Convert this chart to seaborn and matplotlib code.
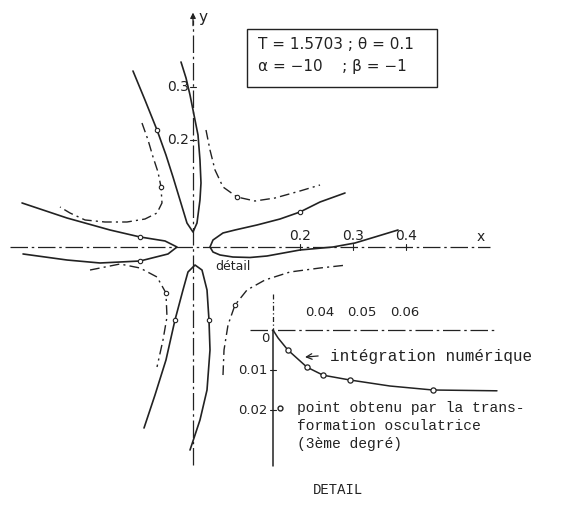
import matplotlib
matplotlib.use("Agg")
import matplotlib.pyplot as plt
from matplotlib.patches import Rectangle
import seaborn as sns

sns.set_style("white")
plt.rcParams['font.family'] = ['DejaVu Sans']

ink = '#222222'

# --- main phase plane: trajectories (x, y) ---
a_x = [-0.1126, -0.0901, -0.0675, -0.0507, -0.0375, -0.0244, -0.0113, 0.0, 0.0075, 0.0131,
       0.0150, 0.0131, 0.0094, 0.0019, -0.0056, -0.0131, -0.0225]
a_y = [0.3302, 0.2758, 0.2195, 0.1726, 0.1313, 0.0882, 0.0450, 0.0281, 0.0450, 0.0882,
       0.1201, 0.1632, 0.2101, 0.2477, 0.2852, 0.3171, 0.3471]

b_x = [-0.0957, -0.0844, -0.0750, -0.0657, -0.0600, -0.0582, -0.0675, -0.0901, -0.1238,
       -0.1651, -0.2026, -0.2308, -0.2495]
b_y = [0.2326, 0.2008, 0.1689, 0.1407, 0.1126, 0.0826, 0.0638, 0.0525, 0.0469,
       0.0469, 0.0507, 0.0638, 0.0750]

c_x = [0.0244, 0.0319, 0.0413, 0.0563, 0.0826, 0.1163, 0.1538, 0.2008, 0.2383]
c_y = [0.2195, 0.1820, 0.1445, 0.1126, 0.0938, 0.0863, 0.0919, 0.1051, 0.1163]

d_x = [0.2852, 0.2383, 0.2008, 0.1632, 0.1201, 0.0788, 0.0563, 0.0375, 0.0319, 0.0375,
       0.0507, 0.0750, 0.1069, 0.1388, 0.2008, 0.2627, 0.3039, 0.3415, 0.3846]
d_y = [0.1013, 0.0844, 0.0657, 0.0525, 0.0413, 0.0319, 0.0263, 0.0131, 0.0, -0.0094,
       -0.0150, -0.0188, -0.0197, -0.0169, -0.0056, 0.0, 0.0075, 0.0188, 0.0319]

e_x = [0.0563, 0.0582, 0.0657, 0.0788, 0.1013, 0.1351, 0.1820, 0.2383, 0.2889]
e_y = [-0.2402, -0.1932, -0.1463, -0.1088, -0.0807, -0.0619, -0.0469, -0.0394, -0.0338]

f_x = [-0.1932, -0.1370, -0.0994, -0.0675, -0.0507, -0.0488, -0.0563, -0.0675]
f_y = [-0.0432, -0.0319, -0.0394, -0.0563, -0.0863, -0.1313, -0.1745, -0.2251]

g_x = [-0.0919, -0.0713, -0.0507, -0.0338, -0.0188, -0.0094, 0.0038, 0.0169, 0.0263, 0.0300,
       0.0319, 0.0263, 0.0131, -0.0056]
g_y = [-0.3396, -0.2777, -0.2120, -0.1370, -0.0807, -0.0469, -0.0338, -0.0432, -0.0807, -0.1370,
       -0.1932, -0.2683, -0.3246, -0.3809]

h_x = [-0.3208, -0.2364, -0.1557, -0.0994, -0.0525, -0.0300, -0.0469, -0.0994, -0.1745,
       -0.2364, -0.3189]
h_y = [0.0826, 0.0544, 0.0319, 0.0188, 0.0113, 0.0, -0.0131, -0.0263, -0.0300,
       -0.0244, -0.0131]

main_xticks = [0.2, 0.3, 0.4]
main_yticks = [0.2, 0.3]

# --- detail: numerical integration near the origin ---
det_x = [0.0290, 0.0302, 0.0325, 0.0370, 0.0408, 0.0471, 0.0565, 0.0666, 0.0817]
det_y = [0.0, 0.0020, 0.0050, 0.0093, 0.0113, 0.0125, 0.0140, 0.0150, 0.0152]
det_marks = [2, 3, 4, 5, 7]   # points from the osculating transformation
det_xticks = [0.04, 0.05, 0.06]
det_yticks = [0.01, 0.02]

solid = '-'
dashed = (0, (7, 3, 1.5, 3))
axis_ls = (0, (14, 3, 2, 3))

traj = [
    (a_x, a_y, solid, [2]),
    (b_x, b_y, dashed, [4]),
    (c_x, c_y, dashed, [4]),
    (d_x, d_y, solid, [2]),
    (e_x, e_y, dashed, [3]),
    (f_x, f_y, dashed, [4]),
    (g_x, g_y, solid, [3, 9]),
    (h_x, h_y, solid, [3, 7]),
]

fig = plt.figure(figsize=(5.68, 5.28), dpi=100)
ax = fig.add_axes([0, 0, 1, 1])
ax.set_xlim(-0.3621, 0.7036)
ax.set_ylim(-0.5272, 0.4634)
ax.axis('off')

# axes of the phase plane
ax.plot([-0.343, 0.557], [0, 0], color=ink, lw=0.9, linestyle=axis_ls)
ax.plot([0, 0], [-0.409, 0.425], color=ink, lw=0.9, linestyle=axis_ls)
ax.annotate('', xy=(0, 0.445), xytext=(0, 0.41),
            arrowprops=dict(arrowstyle='-|>', color=ink, lw=0.9, mutation_scale=8))
ax.text(0.540, 0.019, 'x', fontsize=10, color=ink, ha='center', va='center')
ax.text(0.019, 0.430, 'y', fontsize=11, color=ink, ha='center', va='center')

for v in main_xticks:
    ax.plot([v, v], [-0.005, 0.005], color=ink, lw=0.8)
    ax.text(v, 0.007, f'{v:.1f}', fontsize=10, color=ink, ha='center', va='bottom')
for v in main_yticks:
    ax.plot([-0.006, 0.006], [v, v], color=ink, lw=0.8)
    ax.text(-0.008, v, f'{v:.1f}', fontsize=10, color=ink, ha='right', va='center')

for xs, ys, ls, marks in traj:
    sns.lineplot(x=xs, y=ys, sort=False, estimator=None, color=ink,
                 linewidth=1.2 if ls == solid else 1.0, linestyle=ls, ax=ax)
    sns.scatterplot(x=[xs[i] for i in marks], y=[ys[i] for i in marks], marker='o', s=10,
                    facecolor='white', edgecolor=ink, linewidth=0.8, zorder=3, ax=ax)

ax.text(0.075, -0.037, 'détail', fontsize=9, color=ink, ha='center', va='center')

# parameter box
ax.add_patch(Rectangle((0.1013, 0.300), 0.3565, 0.109, fill=False, ec=ink, lw=1.0))
ax.text(0.122, 0.379, 'T = 1.5703 ; θ = 0.1', fontsize=11, color=ink, va='center')
ax.text(0.122, 0.338, 'α = −10    ; β = −1', fontsize=11, color=ink, va='center')

# annotations of the detail
mono = ['Liberation Mono', 'DejaVu Sans Mono']
ax.annotate('', xy=(0.205, -0.207), xytext=(0.240, -0.204),
            arrowprops=dict(arrowstyle='->', color=ink, lw=0.9))
ax.text(0.257, -0.206, 'intégration numérique', fontsize=11.5, family=mono, color=ink, va='center')
ax.plot(0.163, -0.302, 'o', ms=3.5, mfc='white', mec=ink, mew=1.0)
ax.text(0.195, -0.302, 'point obtenu par la trans-', fontsize=10.5, family=mono, color=ink, va='center')
ax.text(0.195, -0.336, 'formation osculatrice', fontsize=10.5, family=mono, color=ink, va='center')
ax.text(0.195, -0.370, '(3ème degré)', fontsize=10.5, family=mono, color=ink, va='center')
ax.text(0.272, -0.456, 'DETAIL', fontsize=10, family=mono, color=ink, ha='center', va='center')

# detail inset
ax2 = fig.add_axes([240 / 568, (528 - 470) / 528, 265 / 568, 185 / 528])
ax2.set_xlim(0.02124, 0.08359)
ax2.set_ylim(0.035, -0.01125)
ax2.axis('off')
ax2.patch.set_alpha(0)

ax2.plot([0.0235, 0.0817], [0, 0], color=ink, lw=0.9, linestyle=axis_ls)
ax2.plot([0.029, 0.029], [-0.009, 0.0], color=ink, lw=0.9, linestyle=(0, (4, 2, 1, 2)))
ax2.plot([0.029, 0.029], [0.0, 0.034], color=ink, lw=1.1)
for v in det_xticks:
    ax2.text(v, -0.0028, f'{v:.2f}', fontsize=9.5, color=ink, ha='center', va='bottom')
for v in det_yticks:
    ax2.plot([0.0284, 0.0296], [v, v], color=ink, lw=0.8)
    ax2.text(0.0276, v, f'{v:.2f}', fontsize=9.5, color=ink, ha='right', va='center')
ax2.text(0.0271, 0.0022, '0', fontsize=9.5, color=ink, ha='center', va='center')

sns.lineplot(x=det_x, y=det_y, sort=False, estimator=None, color=ink, linewidth=1.1, ax=ax2)
sns.scatterplot(x=[det_x[i] for i in det_marks], y=[det_y[i] for i in det_marks], marker='o',
                s=14, facecolor='white', edgecolor=ink, linewidth=0.9, zorder=3, ax=ax2)

fig.savefig('out.png', dpi=100, facecolor='white')
